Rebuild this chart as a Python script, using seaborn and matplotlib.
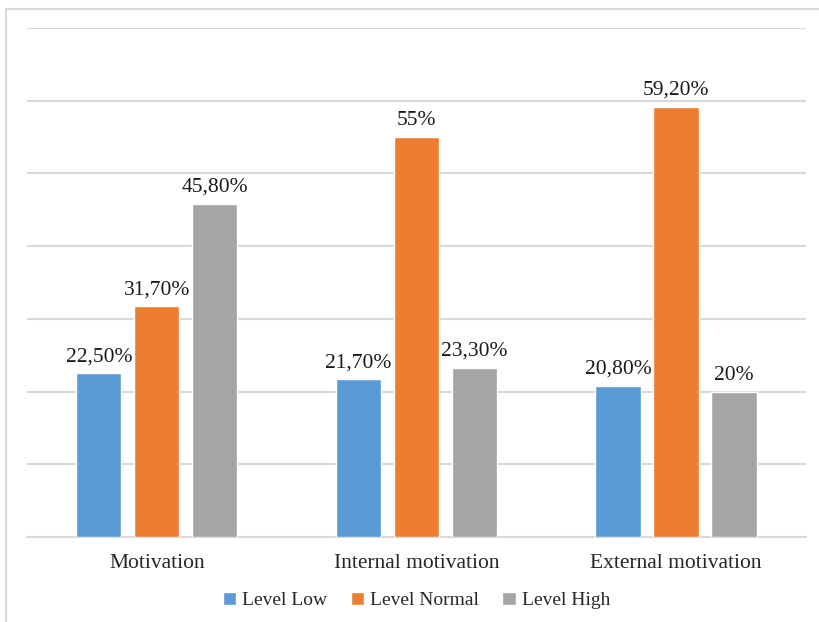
import matplotlib
matplotlib.use("Agg")
import matplotlib.pyplot as plt
from matplotlib.patches import Rectangle
import pandas as pd
import seaborn as sns

categories = ["Motivation", "Internal motivation", "External motivation"]
levels = ["Level Low", "Level Normal", "Level High"]
level_low = [22.5, 21.7, 20.8]
level_normal = [31.7, 55.0, 59.2]
level_high = [45.8, 23.3, 20.0]
colors = ["#5B9BD5", "#ED7D31", "#A5A5A5"]

df = pd.DataFrame({
    "category": categories * 3,
    "level": [levels[0]] * 3 + [levels[1]] * 3 + [levels[2]] * 3,
    "value": level_low + level_normal + level_high,
})

sns.set_theme(style="white")
plt.rcParams["font.family"] = ["Liberation Serif", "DejaVu Serif"]

fig = plt.figure(figsize=(8.19, 6.22), dpi=100)
ax = fig.add_axes([0.033, 0.1367, 0.951, 0.8183])

sns.barplot(data=df, x="category", y="value", hue="level", order=categories,
            hue_order=levels, palette=colors, width=0.67, gap=0.22,
            saturation=1, ax=ax, zorder=3)

ax.set_ylim(0, 70)
ax.set_yticks(range(0, 71, 10))
ax.set_yticklabels([])
ax.tick_params(axis="y", length=0)
ax.tick_params(axis="x", length=0, labelsize=15.5, pad=12)
ax.grid(axis="y", color="#d9d9d9", linewidth=1.5, zorder=0)
ax.set_axisbelow(True)
for side in ["left", "right", "top"]:
    ax.spines[side].set_visible(False)
ax.spines["bottom"].set_color("#d9d9d9")
ax.spines["bottom"].set_linewidth(1.5)
ax.set_xlabel("")
ax.set_ylabel("")


def fmt(v):
    if float(v).is_integer():
        return f"{int(v)}%"
    return f"{v:.2f}".replace(".", ",") + "%"


for container, vals in zip(ax.containers, [level_low, level_normal, level_high]):
    ax.bar_label(container, labels=[fmt(v) for v in vals], padding=5,
                 fontsize=15.5, color="#1a1a1a")

handles, labs = ax.get_legend_handles_labels()
ax.legend(handles, labs, loc="center", bbox_to_anchor=(0.5, -0.125),
          ncol=3, frameon=False, fontsize=14, handlelength=0.7,
          handleheight=0.7, handletextpad=0.3, columnspacing=1.2)

# light outer frame of the chart area
fig.patches.append(Rectangle((6 / 819, -0.05), 1.2, 1 - 9 / 622 + 0.05,
                             transform=fig.transFigure, fill=False,
                             edgecolor="#d9d9d9", linewidth=1.5))

fig.savefig("out.png", dpi=100)
